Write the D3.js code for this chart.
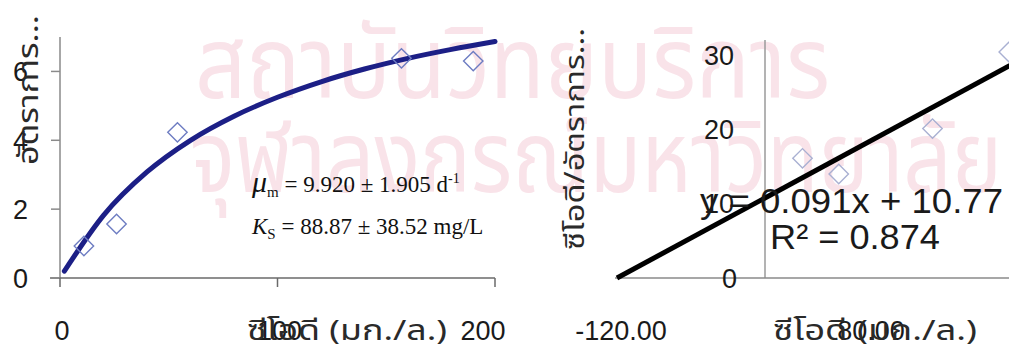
<!DOCTYPE html>
<html>
<head>
<meta charset="utf-8">
<script src="https://cdn.jsdelivr.net/npm/d3@7"></script>
<style>
  body { margin: 0; background: #fff; }
  svg { display: block; }
  .tick-label { font-family: "Liberation Sans", Arial, sans-serif; font-size: 27px; fill: #1a1a1a; }
  .thai { font-family: "Noto Sans Thai", "Noto Sans", "DejaVu Sans", sans-serif; fill: #2a2a2a; }
  .serif { font-family: "Liberation Serif", "Times New Roman", serif; font-size: 23px; fill: #111; }
  .eq { font-family: "Liberation Sans", Arial, sans-serif; font-size: 35px; fill: #1a1a1a; }
</style>
</head>
<body>
<div class="chart"></div>
<script>
var svgWidth = 1009;
var svgHeight = 356;

// left chart: COD vs growth rate (Monod)
var codValues = [11, 26, 54, 157, 190];
var rateValues = [0.93, 1.57, 4.23, 6.38, 6.3];
// fitted curve
var curveCod = [2, 20, 40, 60, 80, 100, 120, 140, 160, 180, 200];
var curveRate = [0.2, 1.82, 3.08, 4.0, 4.7, 5.25, 5.7, 6.07, 6.38, 6.64, 6.87];
var leftXTicks = [0, 100, 200];
var leftYTicks = [0, 2, 4, 6];

// right chart: COD vs COD/rate with linear fit
var codRight = [30, 59, 134, 195];
var ratioValues = [16.1, 14.0, 20.1, 30.4];
var fitSlope = 0.091;
var fitIntercept = 10.77;
var fitRange = [-118.4, 196];
var rightXTicks = [-120, 80];
var rightYTicks = [0, 10, 20, 30];

var svg = d3.select(".chart")
    .append("svg")
    .attr("width", svgWidth)
    .attr("height", svgHeight);

// watermark behind everything
var wm = svg.append("g").attr("class", "thai").style("fill", "#f9e3e9");
wm.append("text")
    .attr("x", 195).attr("y", 98)
    .attr("textLength", 635).attr("lengthAdjust", "spacingAndGlyphs")
    .style("font-size", "100px")
    .text("สถาบันวิทยบริการ");
wm.append("text")
    .attr("x", 190).attr("y", 192)
    .attr("textLength", 812).attr("lengthAdjust", "spacingAndGlyphs")
    .style("font-size", "100px")
    .text("จุฬาลงกรณ์มหาวิทยาลัย");

// ---------- left chart ----------
var xLeft = d3.scaleLinear().domain([0, 200]).range([60, 495]);
var yLeft = d3.scaleLinear().domain([0, 7]).range([278, 37]);

var left = svg.append("g");

// axes lines
left.append("line")
    .attr("x1", xLeft(0)).attr("x2", xLeft(0))
    .attr("y1", yLeft(7)).attr("y2", yLeft(0))
    .attr("stroke", "#8a8a8a").attr("stroke-width", 1.5);
left.append("line")
    .attr("x1", xLeft(0) - 10).attr("x2", xLeft(200))
    .attr("y1", yLeft(0)).attr("y2", yLeft(0))
    .attr("stroke", "#6a6a6a").attr("stroke-width", 1.5);

left.selectAll(".ytick")
    .data(leftYTicks)
    .enter()
    .append("line")
    .attr("x1", xLeft(0) - 9).attr("x2", xLeft(0))
    .attr("y1", d => yLeft(d)).attr("y2", d => yLeft(d))
    .attr("stroke", "#8a8a8a").attr("stroke-width", 1.5);

left.selectAll(".xtick")
    .data(leftXTicks)
    .enter()
    .append("line")
    .attr("x1", d => xLeft(d)).attr("x2", d => xLeft(d))
    .attr("y1", yLeft(0)).attr("y2", yLeft(0) + 9)
    .attr("stroke", "#6a6a6a").attr("stroke-width", 1.5);

left.selectAll(".ylab")
    .data(leftYTicks)
    .enter()
    .append("text")
    .attr("class", "tick-label")
    .attr("x", 28)
    .attr("y", d => yLeft(d))
    .attr("dy", "0.36em")
    .attr("text-anchor", "end")
    .text(d => d);

left.selectAll(".xlab")
    .data(leftXTicks)
    .enter()
    .append("text")
    .attr("class", "tick-label")
    .attr("x", (d, i) => i == leftXTicks.length - 1 ? xLeft(d) - 12 : xLeft(d) + 2)
    .attr("y", 340)
    .attr("text-anchor", "middle")
    .text(d => d);

// axis titles
left.append("text")
    .attr("class", "thai")
    .attr("transform", "translate(38,165) rotate(-90)")
    .attr("textLength", 150).attr("lengthAdjust", "spacingAndGlyphs")
    .style("font-size", "28px")
    .text("อัตราการ...");
left.append("text")
    .attr("class", "thai")
    .attr("x", 247).attr("y", 340)
    .attr("textLength", 200).attr("lengthAdjust", "spacingAndGlyphs")
    .style("font-size", "28px")
    .text("ซีโอดี (มก./ล.)");

// fitted curve
var curveData = curveCod.map((c, i) => [c, curveRate[i]]);
left.append("path")
    .datum(curveData)
    .attr("fill", "none")
    .attr("stroke", "#1c1f86")
    .attr("stroke-width", 5)
    .attr("stroke-linecap", "round")
    .attr("d", d3.line().x(d => xLeft(d[0])).y(d => yLeft(d[1])).curve(d3.curveMonotoneX));

// data points
var diamond = d3.symbol().type(d3.symbolDiamond2).size(240);
left.selectAll(".pt")
    .data(codValues)
    .enter()
    .append("path")
    .attr("d", diamond)
    .attr("transform", (d, i) => "translate(" + xLeft(d) + "," + yLeft(rateValues[i]) + ")")
    .attr("fill", "none")
    .attr("stroke", "#6d7cc2")
    .attr("stroke-width", 1.4);

// parameter box
var p1 = left.append("text").attr("class", "serif").attr("x", 252).attr("y", 192);
p1.append("tspan").style("font-style", "italic").style("font-size", "30px").text("μ");
p1.append("tspan").attr("dy", 5).style("font-size", "15px").text("m");
p1.append("tspan").attr("dy", -5).text(" = 9.920 ± 1.905 d");
p1.append("tspan").attr("dy", -9).style("font-size", "14px").text("-1");

var p2 = left.append("text").attr("class", "serif").attr("x", 252).attr("y", 234);
p2.append("tspan").style("font-style", "italic").text("K");
p2.append("tspan").attr("dy", 5).style("font-size", "15px").text("S");
p2.append("tspan").attr("dy", -5).text(" = 88.87 ± 38.52 mg/L");

// ---------- right chart ----------
var xRight = d3.scaleLinear().domain([-120, 80]).range([615, 865]);
var yRight = d3.scaleLinear().domain([0, 30]).range([278, 55]);

var right = svg.append("g");

right.append("line")
    .attr("x1", xRight(0)).attr("x2", xRight(0))
    .attr("y1", 40).attr("y2", yRight(0))
    .attr("stroke", "#9a9a9a").attr("stroke-width", 1.5);
right.append("line")
    .attr("x1", xRight(-120)).attr("x2", svgWidth)
    .attr("y1", yRight(0)).attr("y2", yRight(0))
    .attr("stroke", "#8a8a8a").attr("stroke-width", 1.5);

right.selectAll(".ylab")
    .data(rightYTicks)
    .enter()
    .append("text")
    .attr("class", "tick-label")
    .attr("x", (d, i) => i == 0 ? 737 : 734)
    .attr("y", d => yRight(d))
    .attr("dy", "0.36em")
    .attr("text-anchor", "end")
    .text(d => d);

right.selectAll(".xlab")
    .data(rightXTicks)
    .enter()
    .append("text")
    .attr("class", "tick-label")
    .attr("x", d => xRight(d) + 6)
    .attr("y", 340)
    .attr("text-anchor", "middle")
    .text(d => d3.format(".2f")(d).replace("−", "-"));

right.append("text")
    .attr("class", "thai")
    .attr("transform", "translate(584,250) rotate(-90)")
    .attr("textLength", 222).attr("lengthAdjust", "spacingAndGlyphs")
    .style("font-size", "27px")
    .text("ซีโอดี/อัตราการ...");
right.append("text")
    .attr("class", "thai")
    .attr("x", 773).attr("y", 340)
    .attr("textLength", 204).attr("lengthAdjust", "spacingAndGlyphs")
    .style("font-size", "28px")
    .text("ซีโอดี (มก./ล.)");

right.selectAll(".pt")
    .data(codRight)
    .enter()
    .append("path")
    .attr("d", diamond)
    .attr("transform", (d, i) => "translate(" + xRight(d) + "," + yRight(ratioValues[i]) + ")")
    .attr("fill", "none")
    .attr("stroke", "#a9b0d2")
    .attr("stroke-width", 1.4);

// trend line
right.append("line")
    .attr("x1", xRight(fitRange[0])).attr("y1", yRight(fitSlope * fitRange[0] + fitIntercept))
    .attr("x2", xRight(fitRange[1])).attr("y2", yRight(fitSlope * fitRange[1] + fitIntercept))
    .attr("stroke", "#000").attr("stroke-width", 5);

right.append("text")
    .attr("class", "eq")
    .attr("x", 700).attr("y", 213)
    .attr("textLength", 303).attr("lengthAdjust", "spacingAndGlyphs")
    .text("y = 0.091x + 10.77");
right.append("text")
    .attr("class", "eq")
    .attr("x", 770).attr("y", 249)
    .attr("textLength", 170).attr("lengthAdjust", "spacingAndGlyphs")
    .text("R² = 0.874");
</script>
</body>
</html>
